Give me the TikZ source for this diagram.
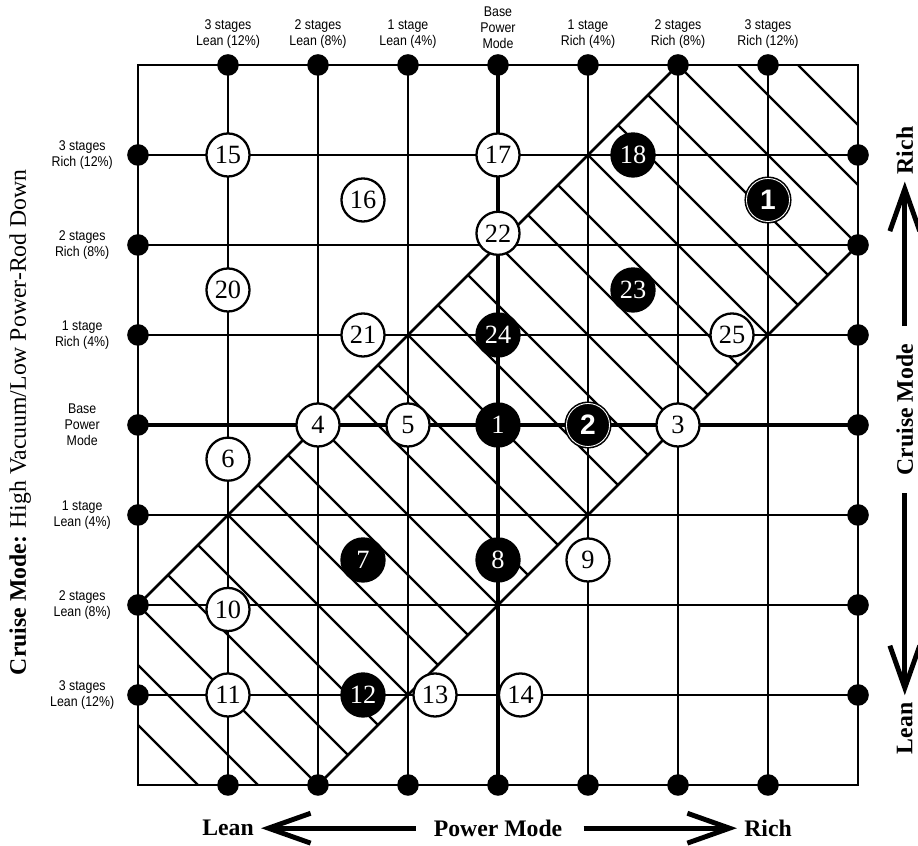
\documentclass[tikz,border=0pt]{standalone}
\usepackage{fontspec}
\setmainfont{Liberation Serif}
\newfontfamily\narrowsf[FakeStretch=0.88]{Liberation Sans}
\newfontfamily\numsf{Liberation Sans}
\usetikzlibrary{arrows.meta}

\tikzset{
  gridline/.style={line width=1.5pt, line cap=rect},
  mainline/.style={line width=2.8pt},
  hatchline/.style={line width=1.3pt},
  stagelbl/.style={font=\narrowsf\fontsize{8}{9}\selectfont, align=center, inner sep=0pt},
  axislbl/.style={font=\fontsize{13.5}{14}\selectfont\bfseries, inner sep=0pt},
  testpt/.style={circle, draw=black, line width=1.3pt, minimum size=24.5pt, inner sep=0pt,
    font=\fontsize{15}{15}\selectfont},
  openpt/.style={testpt, fill=white},
  fullpt/.style={testpt, fill=black, text=white},
  ringpt/.style={testpt, fill=black, text=white, line width=0.9pt, double=white,
    double distance=0.5pt, font=\numsf\bfseries\fontsize{16}{16}\selectfont},
  bigarrow/.style={line width=2.8pt, -{Straight Barb[length=24pt,width=17pt,line width=2.8pt]}}
}

\begin{document}
\begin{tikzpicture}[x=1.8cm, y=1.8cm]
\useasboundingbox (-1.5333,-0.6778) rectangle (8.6667,8.7222);

% Grid
\foreach \i in {1,2,3,5,6,7} {
    \draw[gridline] (\i,0) -- (\i,8);
    \draw[gridline] (0,\i) -- (8,\i);
}
\draw[mainline] (4,0) -- (4,8);
\draw[mainline] (0,4) -- (8,4);

% Hatched band
\begin{scope}
\clip (0,0) -- (2,0) -- (8,6) -- (8,8) -- (6,8) -- (0,2) -- cycle;
\foreach \k in {1,...,23} {
    \draw[hatchline] ({\k/3-3},{\k/3+3}) -- ({\k/3+3},{\k/3-3});
}
\end{scope}
\draw[gridline] (0,2) -- (6,8);
\draw[gridline] (2,0) -- (8,6);
\draw[gridline] (0,0) rectangle (8,8);

% Dots on the frame
\foreach \i in {1,...,7} {
    \fill (\i,0) circle (0.12);
    \fill (\i,8) circle (0.12);
    \fill (0,\i) circle (0.12);
    \fill (8,\i) circle (0.12);
}

% Stage labels
\foreach \u/\txt in {1/{3 stages\\Lean (12\%)}, 2/{2 stages\\Lean (8\%)}, 3/{1 stage\\Lean (4\%)},
                     4/{Base\\Power\\Mode}, 5/{1 stage\\Rich (4\%)}, 6/{2 stages\\Rich (8\%)},
                     7/{3 stages\\Rich (12\%)}} {
    \node[stagelbl, anchor=south] (top\u) at (\u,8.18) {\txt};
}
\foreach \v/\txt in {7/{3 stages\\Rich (12\%)}, 6/{2 stages\\Rich (8\%)}, 5/{1 stage\\Rich (4\%)},
                     4/{Base\\Power\\Mode}, 3/{1 stage\\Lean (4\%)}, 2/{2 stages\\Lean (8\%)},
                     1/{3 stages\\Lean (12\%)}} {
    \node[stagelbl] (side\v) at (-0.62,\v) {\txt};
}

% Test points
\node[openpt] (n15) at (1,7) {15};
\node[openpt] (n17) at (4,7) {17};
\node[fullpt] (n18) at (5.5,7) {18};
\node[openpt] (n16) at (2.5,6.5) {16};
\node[ringpt] (nc1) at (7,6.5) {1};
\node[openpt] (n22) at (4,6.13) {22};
\node[openpt] (n20) at (1,5.5) {20};
\node[fullpt] (n23) at (5.5,5.5) {23};
\node[openpt] (n21) at (2.5,5) {21};
\node[fullpt] (n24) at (4,5) {24};
\node[openpt] (n25) at (6.6,5) {25};
\node[openpt] (n4) at (2,4) {4};
\node[openpt] (n5) at (3,4) {5};
\node[fullpt] (np1) at (4,4) {1};
\node[ringpt] (n2) at (5,4) {2};
\node[openpt] (n3) at (6,4) {3};
\node[openpt] (n6) at (1,3.62) {6};
\node[fullpt] (n7) at (2.5,2.5) {7};
\node[fullpt] (n8) at (4,2.5) {8};
\node[openpt] (n9) at (5,2.5) {9};
\node[openpt] (n10) at (1,1.95) {10};
\node[openpt] (n11) at (1,1) {11};
\node[fullpt] (n12) at (2.5,1) {12};
\node[openpt] (n13) at (3.3,1) {13};
\node[openpt] (n14) at (4.25,1) {14};

% Axis captions
\node[axislbl] (leanb) at (1,-0.48) {Lean};
\node[axislbl] (powerb) at (4,-0.48) {Power Mode};
\node[axislbl] (richb) at (7,-0.48) {Rich};
\draw[bigarrow, shorten <=10pt, shorten >=4pt] (powerb.west) -- (leanb.east);
\draw[bigarrow, shorten <=12pt, shorten >=4pt] (powerb.east) -- (richb.west);

\node[axislbl, rotate=90] (richr) at (8.52,7.05) {Rich};
\node[axislbl, rotate=90] (cruiser) at (8.52,4.17) {Cruise Mode};
\node[axislbl, rotate=90] (leanr) at (8.52,0.63) {Lean};
\draw[bigarrow, shorten <=10pt, shorten >=4pt] (cruiser.east) -- (richr.west);
\draw[bigarrow, shorten <=10pt, shorten >=4pt] (cruiser.west) -- (leanr.east);

\node[rotate=90, font=\fontsize{13.5}{14}\selectfont, inner sep=0pt] (modelbl) at (-1.31,4.03)
    {\textbf{Cruise Mode:} High Vacuum/Low Power-Rod Down};
\end{tikzpicture}
\end{document}
